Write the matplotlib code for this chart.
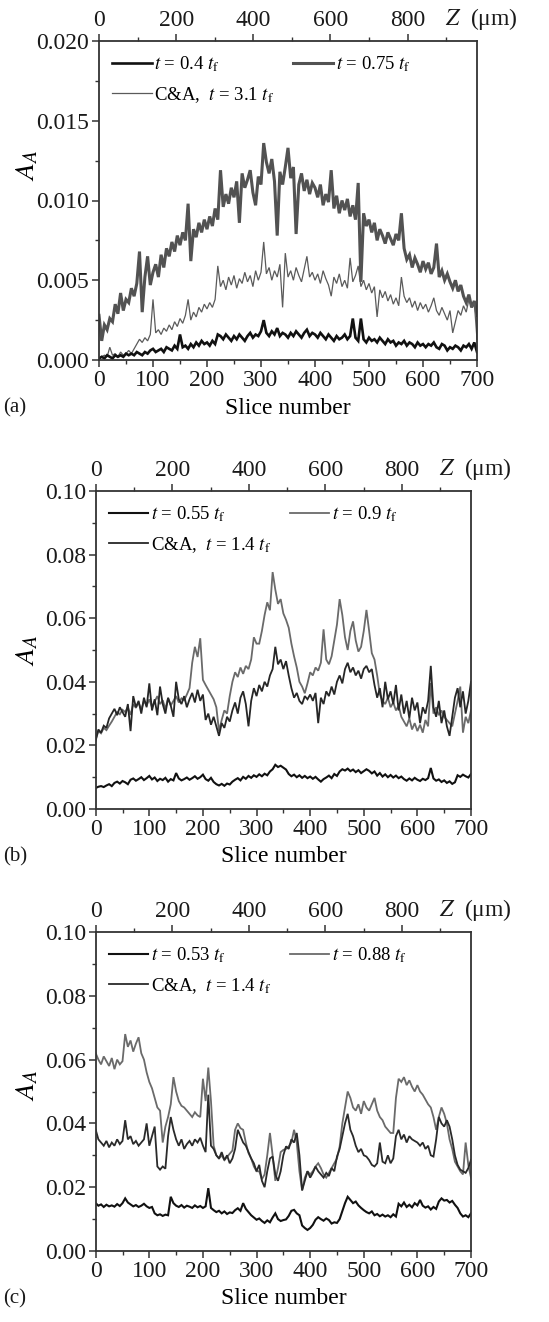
import numpy as np
import matplotlib
matplotlib.use("Agg")
import matplotlib.pyplot as plt
from matplotlib.ticker import MultipleLocator, FormatStrFormatter

plt.rcParams['font.family'] = ['Liberation Serif', 'DejaVu Serif']
plt.rcParams['mathtext.fontset'] = 'stix'

SLICE_STEP = 5
UM_PER_SLICE = 1.4

# ---------------- panel (a) ----------------
a_t040 = [0.0001,0.0002,0.0001,0.0003,0.0002,0.0001,0.0003,0.0002,0.0003,0.0002,0.0004,
          0.0003,0.0004,0.0003,0.0005,0.0004,0.0003,0.0005,0.0004,0.0006,0.0007,
          0.0005,0.0006,0.0007,0.0005,0.0008,0.0007,0.0006,0.0009,0.0007,0.0016,
          0.0008,0.0009,0.0007,0.0010,0.0008,0.0011,0.0009,0.0012,0.0010,0.0011,
          0.0009,0.0012,0.0010,0.0016,0.0015,0.0013,0.0016,0.0014,0.0012,0.0015,
          0.0013,0.0016,0.0014,0.0012,0.0015,0.0017,0.0014,0.0016,0.0015,0.0018,
          0.0025,0.0017,0.0015,0.0018,0.0016,0.0020,0.0015,0.0017,0.0016,0.0014,
          0.0017,0.0015,0.0018,0.0016,0.0014,0.0017,0.0019,0.0015,0.0017,0.0016,
          0.0014,0.0017,0.0015,0.0013,0.0016,0.0014,0.0012,0.0015,0.0013,0.0014,
          0.0016,0.0013,0.0015,0.0026,0.0014,0.0012,0.0026,0.0013,0.0011,0.0014,
          0.0012,0.0013,0.0011,0.0014,0.0012,0.0010,0.0013,0.0011,0.0012,0.0009,
          0.0011,0.0010,0.0012,0.0009,0.0011,0.0010,0.0008,0.0011,0.0009,0.0010,
          0.0008,0.0010,0.0009,0.0011,0.0008,0.0007,0.0010,0.0009,0.0006,0.0008,
          0.0007,0.0009,0.0008,0.0006,0.0009,0.0008,0.0010,0.0007,0.0011,0.0005]

a_t075 = [0.0028,0.0012,0.0022,0.0019,0.0026,0.0024,0.0035,0.0029,0.0042,0.0031,0.0038,
          0.0036,0.0045,0.0040,0.0048,0.0068,0.0030,0.0052,0.0065,0.0047,0.0055,
          0.0060,0.0052,0.0066,0.0058,0.0070,0.0065,0.0074,0.0068,0.0078,0.0072,
          0.0080,0.0075,0.0098,0.0062,0.0082,0.0077,0.0086,0.0080,0.0088,0.0082,
          0.0090,0.0084,0.0095,0.0088,0.0119,0.0096,0.0104,0.0098,0.0108,0.0102,
          0.0112,0.0086,0.0117,0.0108,0.0113,0.0119,0.0105,0.0097,0.0115,0.0110,
          0.0136,0.0124,0.0117,0.0126,0.0112,0.0078,0.0118,0.0110,0.0121,0.0133,
          0.0114,0.0121,0.0079,0.0110,0.0117,0.0106,0.0113,0.0104,0.0111,0.0108,
          0.0102,0.0110,0.0097,0.0104,0.0099,0.0119,0.0095,0.0103,0.0092,0.0100,
          0.0094,0.0101,0.0090,0.0097,0.0088,0.0111,0.0049,0.0092,0.0084,0.0088,
          0.0080,0.0086,0.0075,0.0082,0.0078,0.0073,0.0080,0.0076,0.0072,0.0079,
          0.0075,0.0092,0.0070,0.0063,0.0066,0.0058,0.0064,0.0060,0.0055,0.0062,
          0.0057,0.0061,0.0054,0.0058,0.0073,0.0052,0.0056,0.0050,0.0054,0.0049,
          0.0045,0.0050,0.0043,0.0047,0.0040,0.0036,0.0041,0.0033,0.0037,0.0028]

a_ca31 = [0.0001,0.0002,0.0003,0.0002,0.0008,0.0003,0.0004,0.0002,0.0005,0.0003,0.0004,
          0.0006,0.0004,0.0007,0.0010,0.0013,0.0011,0.0014,0.0012,0.0016,0.0038,
          0.0017,0.0019,0.0016,0.0020,0.0018,0.0022,0.0019,0.0024,0.0021,0.0026,
          0.0023,0.0028,0.0038,0.0025,0.0030,0.0027,0.0033,0.0030,0.0035,0.0032,
          0.0036,0.0033,0.0038,0.0059,0.0046,0.0050,0.0044,0.0052,0.0047,0.0053,
          0.0045,0.0051,0.0048,0.0055,0.0049,0.0053,0.0046,0.0056,0.0050,0.0055,
          0.0074,0.0054,0.0058,0.0050,0.0056,0.0052,0.0060,0.0033,0.0067,0.0052,
          0.0056,0.0050,0.0058,0.0053,0.0049,0.0057,0.0065,0.0052,0.0055,0.0050,
          0.0054,0.0048,0.0056,0.0051,0.0047,0.0040,0.0052,0.0048,0.0054,0.0046,
          0.0050,0.0045,0.0064,0.0049,0.0053,0.0059,0.0046,0.0050,0.0044,0.0048,
          0.0042,0.0046,0.0027,0.0044,0.0039,0.0043,0.0037,0.0041,0.0035,0.0039,
          0.0034,0.0052,0.0040,0.0036,0.0039,0.0033,0.0037,0.0031,0.0036,0.0032,
          0.0035,0.0030,0.0034,0.0039,0.0031,0.0028,0.0033,0.0029,0.0025,0.0031,
          0.0017,0.0024,0.0031,0.0028,0.0034,0.0030,0.0038,0.0033,0.0036,0.0013]

# ---------------- panel (b) ----------------
b_t055 = [0.0066,0.0070,0.0072,0.0069,0.0074,0.0078,0.0072,0.0082,0.0086,0.0080,0.0088,
          0.0084,0.0078,0.0092,0.0096,0.0089,0.0094,0.0100,0.0091,0.0097,0.0104,
          0.0093,0.0099,0.0088,0.0095,0.0091,0.0098,0.0086,0.0094,0.0090,0.0113,
          0.0096,0.0090,0.0094,0.0099,0.0092,0.0097,0.0103,0.0095,0.0100,0.0108,
          0.0094,0.0089,0.0098,0.0085,0.0078,0.0074,0.0079,0.0073,0.0080,0.0077,
          0.0086,0.0092,0.0097,0.0090,0.0101,0.0095,0.0104,0.0098,0.0106,0.0101,
          0.0109,0.0103,0.0111,0.0106,0.0118,0.0125,0.0139,0.0132,0.0136,0.0130,
          0.0124,0.0110,0.0103,0.0108,0.0100,0.0106,0.0098,0.0104,0.0097,0.0102,
          0.0095,0.0101,0.0093,0.0086,0.0094,0.0099,0.0105,0.0097,0.0110,0.0104,
          0.0118,0.0125,0.0121,0.0127,0.0119,0.0124,0.0116,0.0122,0.0113,0.0119,
          0.0125,0.0120,0.0112,0.0118,0.0105,0.0113,0.0102,0.0109,0.0100,0.0107,
          0.0099,0.0105,0.0097,0.0102,0.0094,0.0089,0.0096,0.0090,0.0098,0.0092,
          0.0088,0.0095,0.0091,0.0097,0.0129,0.0096,0.0089,0.0093,0.0085,0.0090,
          0.0082,0.0087,0.0079,0.0084,0.0106,0.0101,0.0108,0.0103,0.0099,0.0110]

b_t090 = [0.0220,0.0245,0.0238,0.0255,0.0248,0.0262,0.0275,0.0290,0.0305,0.0298,0.0312,
          0.0305,0.0320,0.0296,0.0330,0.0318,0.0335,0.0312,0.0340,0.0325,0.0345,
          0.0320,0.0338,0.0355,0.0330,0.0342,0.0315,0.0348,0.0326,0.0340,0.0355,
          0.0335,0.0348,0.0342,0.0360,0.0380,0.0460,0.0510,0.0478,0.0537,0.0406,
          0.0390,0.0375,0.0360,0.0345,0.0320,0.0245,0.0280,0.0310,0.0300,0.0355,
          0.0400,0.0430,0.0415,0.0445,0.0425,0.0450,0.0440,0.0470,0.0540,0.0520,
          0.0520,0.0560,0.0610,0.0650,0.0625,0.0745,0.0690,0.0645,0.0660,0.0615,
          0.0595,0.0570,0.0520,0.0480,0.0445,0.0400,0.0385,0.0364,0.0395,0.0430,
          0.0420,0.0445,0.0435,0.0460,0.0565,0.0470,0.0455,0.0480,0.0530,0.0580,
          0.0660,0.0610,0.0540,0.0500,0.0560,0.0590,0.0530,0.0495,0.0510,0.0560,
          0.0626,0.0560,0.0490,0.0470,0.0420,0.0360,0.0340,0.0330,0.0350,0.0320,
          0.0335,0.0310,0.0325,0.0290,0.0275,0.0260,0.0285,0.0250,0.0270,0.0245,
          0.0265,0.0240,0.0280,0.0260,0.0396,0.0300,0.0320,0.0295,0.0310,0.0290,
          0.0280,0.0270,0.0260,0.0300,0.0340,0.0385,0.0240,0.0290,0.0270,0.0310]

b_ca14 = [0.0215,0.0250,0.0240,0.0262,0.0255,0.0285,0.0300,0.0315,0.0295,0.0320,0.0305,
          0.0290,0.0330,0.0245,0.0355,0.0320,0.0340,0.0300,0.0350,0.0320,0.0395,
          0.0310,0.0345,0.0295,0.0385,0.0330,0.0300,0.0350,0.0325,0.0290,0.0400,
          0.0345,0.0330,0.0355,0.0320,0.0345,0.0365,0.0335,0.0375,0.0340,0.0360,
          0.0280,0.0300,0.0265,0.0290,0.0260,0.0230,0.0270,0.0255,0.0290,0.0275,
          0.0310,0.0335,0.0300,0.0350,0.0370,0.0330,0.0260,0.0340,0.0380,0.0355,
          0.0390,0.0370,0.0400,0.0385,0.0420,0.0440,0.0510,0.0455,0.0470,0.0440,
          0.0465,0.0420,0.0380,0.0350,0.0365,0.0340,0.0330,0.0355,0.0345,0.0360,
          0.0340,0.0365,0.0270,0.0350,0.0330,0.0370,0.0355,0.0385,0.0360,0.0400,
          0.0420,0.0395,0.0440,0.0460,0.0430,0.0445,0.0420,0.0435,0.0410,0.0440,
          0.0450,0.0430,0.0440,0.0390,0.0350,0.0380,0.0320,0.0400,0.0345,0.0370,
          0.0330,0.0390,0.0310,0.0360,0.0300,0.0340,0.0285,0.0350,0.0310,0.0335,
          0.0270,0.0320,0.0300,0.0340,0.0450,0.0320,0.0290,0.0340,0.0270,0.0310,
          0.0260,0.0230,0.0290,0.0350,0.0380,0.0320,0.0370,0.0300,0.0340,0.0400]

# ---------------- panel (c) ----------------
c_t053 = [0.0150,0.0142,0.0146,0.0138,0.0145,0.0140,0.0143,0.0139,0.0147,0.0141,0.0150,
          0.0165,0.0152,0.0146,0.0140,0.0144,0.0138,0.0142,0.0148,0.0140,0.0135,
          0.0138,0.0118,0.0112,0.0115,0.0110,0.0114,0.0112,0.0170,0.0150,0.0142,
          0.0138,0.0144,0.0136,0.0142,0.0139,0.0135,0.0143,0.0137,0.0141,0.0135,
          0.0140,0.0197,0.0135,0.0128,0.0122,0.0126,0.0118,0.0124,0.0116,0.0121,
          0.0119,0.0128,0.0134,0.0126,0.0150,0.0132,0.0122,0.0112,0.0105,0.0098,
          0.0102,0.0094,0.0088,0.0096,0.0090,0.0105,0.0118,0.0100,0.0094,0.0097,
          0.0099,0.0110,0.0126,0.0129,0.0118,0.0112,0.0080,0.0072,0.0066,0.0072,
          0.0082,0.0098,0.0106,0.0100,0.0095,0.0102,0.0097,0.0086,0.0090,0.0088,
          0.0100,0.0125,0.0150,0.0170,0.0160,0.0150,0.0155,0.0143,0.0135,0.0128,
          0.0122,0.0118,0.0124,0.0112,0.0116,0.0109,0.0114,0.0108,0.0112,0.0106,
          0.0115,0.0108,0.0148,0.0140,0.0152,0.0138,0.0145,0.0137,0.0150,0.0143,
          0.0160,0.0142,0.0136,0.0140,0.0130,0.0138,0.0132,0.0155,0.0165,0.0158,
          0.0160,0.0152,0.0157,0.0145,0.0135,0.0118,0.0108,0.0112,0.0106,0.0118]

c_t088 = [0.0620,0.0600,0.0585,0.0610,0.0595,0.0580,0.0605,0.0570,0.0600,0.0585,0.0595,
          0.0680,0.0640,0.0660,0.0625,0.0650,0.0670,0.0620,0.0600,0.0560,0.0530,
          0.0510,0.0480,0.0450,0.0440,0.0340,0.0390,0.0420,0.0460,0.0545,0.0500,
          0.0470,0.0455,0.0450,0.0440,0.0430,0.0420,0.0435,0.0425,0.0420,0.0540,
          0.0470,0.0575,0.0470,0.0330,0.0300,0.0290,0.0300,0.0285,0.0295,0.0305,
          0.0315,0.0380,0.0400,0.0385,0.0380,0.0340,0.0307,0.0290,0.0265,0.0250,
          0.0250,0.0225,0.0240,0.0300,0.0370,0.0300,0.0220,0.0260,0.0310,0.0317,
          0.0320,0.0328,0.0340,0.0380,0.0340,0.0250,0.0190,0.0230,0.0250,0.0240,
          0.0250,0.0265,0.0275,0.0260,0.0240,0.0230,0.0245,0.0260,0.0275,0.0290,
          0.0328,0.0400,0.0450,0.0500,0.0480,0.0450,0.0440,0.0460,0.0430,0.0470,
          0.0450,0.0440,0.0460,0.0480,0.0440,0.0420,0.0410,0.0390,0.0380,0.0370,
          0.0370,0.0480,0.0540,0.0530,0.0545,0.0520,0.0535,0.0515,0.0500,0.0520,
          0.0500,0.0490,0.0475,0.0460,0.0450,0.0420,0.0380,0.0420,0.0450,0.0430,
          0.0400,0.0350,0.0320,0.0280,0.0265,0.0250,0.0240,0.0340,0.0270,0.0230]

c_ca14 = [0.0380,0.0350,0.0340,0.0330,0.0345,0.0325,0.0340,0.0330,0.0350,0.0335,0.0345,
          0.0410,0.0350,0.0360,0.0335,0.0345,0.0330,0.0340,0.0350,0.0400,0.0330,
          0.0360,0.0390,0.0265,0.0255,0.0265,0.0258,0.0360,0.0420,0.0380,0.0350,
          0.0330,0.0350,0.0320,0.0335,0.0345,0.0330,0.0350,0.0340,0.0355,0.0330,
          0.0310,0.0490,0.0330,0.0320,0.0300,0.0290,0.0310,0.0285,0.0300,0.0275,
          0.0290,0.0320,0.0380,0.0360,0.0340,0.0330,0.0310,0.0290,0.0275,0.0250,
          0.0270,0.0220,0.0200,0.0250,0.0290,0.0296,0.0240,0.0220,0.0250,0.0300,
          0.0328,0.0320,0.0350,0.0340,0.0370,0.0300,0.0190,0.0220,0.0250,0.0230,
          0.0245,0.0265,0.0250,0.0240,0.0230,0.0245,0.0235,0.0260,0.0250,0.0296,
          0.0320,0.0360,0.0400,0.0430,0.0380,0.0360,0.0330,0.0310,0.0320,0.0300,
          0.0296,0.0285,0.0270,0.0265,0.0275,0.0340,0.0280,0.0275,0.0300,0.0275,
          0.0290,0.0360,0.0380,0.0350,0.0365,0.0340,0.0360,0.0350,0.0345,0.0340,
          0.0330,0.0340,0.0320,0.0330,0.0300,0.0296,0.0350,0.0420,0.0400,0.0390,
          0.0410,0.0390,0.0350,0.0300,0.0270,0.0255,0.0250,0.0245,0.0260,0.0286]

labels_a = [r"$t$ = 0.4 $t_{\rm f}$", r"$t$ = 0.75 $t_{\rm f}$", r"C&A,  $t$ = 3.1 $t_{\rm f}$"]
labels_b = [r"$t$ = 0.55 $t_{\rm f}$", r"$t$ = 0.9 $t_{\rm f}$", r"C&A,  $t$ = 1.4 $t_{\rm f}$"]
labels_c = [r"$t$ = 0.53 $t_{\rm f}$", r"$t$ = 0.88 $t_{\rm f}$", r"C&A,  $t$ = 1.4 $t_{\rm f}$"]
panel_tags = ["(a)", "(b)", "(c)"]

W, H = 549, 1322
fig = plt.figure(figsize=(W / 100, H / 100), dpi=100)

TICK_FS = 17
LEG_FS = 13.5
SPINE_C = '#333333'

# axes rectangles in pixels: left, right, top, bottom
rects = [(99, 477, 41, 360), (95.7, 471, 491, 809), (95.7, 471, 932, 1251)]

panels = [
    dict(series=[a_t040, a_t075, a_ca31], labels=labels_a,
         colors=['#111111', '#525252', '#5a5a5a'], lws=[1.9, 2.2, 0.9],
         ylim=0.020, ymaj=0.005, ymin=0.0025, fmt='%.3f', ylab=(-0.155, 0.61)),
    dict(series=[b_t055, b_t090, b_ca14], labels=labels_b,
         colors=['#111111', '#6a6a6a', '#262626'], lws=[1.5, 1.3, 1.3],
         ylim=0.10, ymaj=0.02, ymin=0.01, fmt='%.2f', ylab=(-0.148, 0.5)),
    dict(series=[c_t053, c_t088, c_ca14], labels=labels_c,
         colors=['#111111', '#6a6a6a', '#2a2a2a'], lws=[1.5, 1.3, 1.3],
         ylim=0.10, ymaj=0.02, ymin=0.01, fmt='%.2f', ylab=(-0.148, 0.52)),
]

for k, (p, (l, r, t, b)) in enumerate(zip(panels, rects)):
    ax = fig.add_axes([l / W, 1 - b / H, (r - l) / W, (b - t) / H])
    lines = [None] * 3
    for i in [1, 2, 0]:
        vals = p['series'][i]
        x = np.arange(len(vals)) * SLICE_STEP
        ln, = ax.plot(x, vals, color=p['colors'][i], lw=p['lws'][i],
                      label=p['labels'][i], solid_joinstyle='miter')
        lines[i] = ln
    ax.set_xlim(0, 700)
    ax.set_ylim(0, p['ylim'])
    ax.xaxis.set_major_locator(MultipleLocator(100))
    ax.xaxis.set_minor_locator(MultipleLocator(50))
    ax.yaxis.set_major_locator(MultipleLocator(p['ymaj']))
    ax.yaxis.set_minor_locator(MultipleLocator(p['ymin']))
    ax.yaxis.set_major_formatter(FormatStrFormatter(p['fmt']))
    ax.tick_params(axis='both', which='both', direction='out', color=SPINE_C,
                   labelsize=TICK_FS, labelcolor='#1a1a1a', top=False, right=False)
    ax.tick_params(which='major', length=5, width=1.1, pad=2)
    ax.tick_params(which='minor', length=3, width=1.0)
    for s in ax.spines.values():
        s.set_color(SPINE_C)
        s.set_linewidth(1.3)

    ax.set_xlabel("Slice number", fontsize=TICK_FS, va='center')
    ax.xaxis.set_label_coords(0.5, -(48) / (b - t))
    ax.set_ylabel(r"$A_A$", fontsize=20)
    ax.yaxis.set_label_coords(*p['ylab'])

    # top axis in micrometres
    top = ax.twiny()
    top.set_xlim(0, 700 * UM_PER_SLICE)
    top.xaxis.set_major_locator(MultipleLocator(200))
    top.xaxis.set_minor_locator(MultipleLocator(100))
    top.tick_params(axis='x', which='both', direction='out', color=SPINE_C,
                    labelsize=TICK_FS, labelcolor='#1a1a1a', pad=2)
    top.tick_params(which='major', length=5, width=1.1)
    top.tick_params(which='minor', length=3, width=1.0)
    for s in top.spines.values():
        s.set_visible(False)
    top.text(0.915, 1.0 + 9 / (b - t), r"$Z$  (μm)", transform=top.transAxes,
             fontsize=TICK_FS, ha='left', va='bottom', color='#1a1a1a')

    ax.legend([lines[0], lines[2], lines[1]],
              [p['labels'][0], p['labels'][2], p['labels'][1]],
              ncol=2, loc='upper left', bbox_to_anchor=(0, 1), frameon=False,
              fontsize=LEG_FS, handlelength=2.1, handletextpad=0.15,
              columnspacing=1.0, labelspacing=0.6, borderaxespad=0.25,
              borderpad=0.45)

    fig.text(3 / W, 1 - (b + 48) / H, panel_tags[k], fontsize=15,
             ha='left', va='center', color='#1a1a1a')

fig.savefig("out.png", dpi=100)
